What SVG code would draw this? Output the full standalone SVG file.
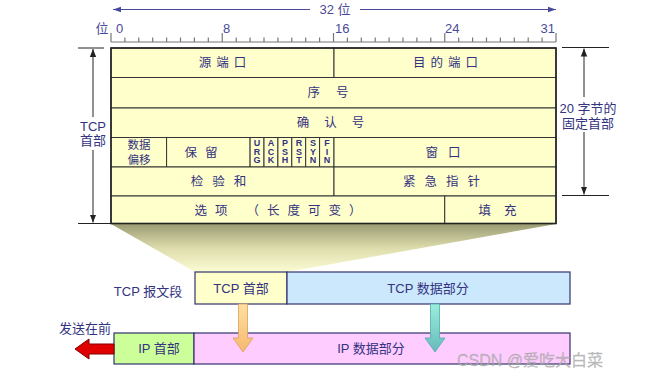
<svg xmlns="http://www.w3.org/2000/svg" width="663" height="380" viewBox="0 0 663 380">
<defs>
<style>
.t{font-family:"Noto Sans CJK SC","Liberation Sans",sans-serif;fill:#33337f;font-size:12.5px;text-anchor:middle}
.t2{font-family:"Liberation Sans","Noto Sans CJK SC",sans-serif;fill:#33337f;font-size:11.5px;text-anchor:middle}
.r{font-family:"Liberation Sans","Noto Sans CJK SC",sans-serif;fill:#4a4a9a;font-size:13px}
.f{font-family:"Liberation Sans",sans-serif;font-weight:bold;fill:#33337f;font-size:9px;text-anchor:middle}
.b{font-family:"Liberation Sans","Noto Sans CJK SC",sans-serif;fill:#33337f;font-size:13px;text-anchor:middle}
.cell{fill:#ffffcc;stroke:#333;stroke-width:1}
.dim{stroke:#222;stroke-width:1;fill:none}
.seg{stroke:#33336f;stroke-width:1.2}
</style>
<linearGradient id="shadow" x1="0" y1="0" x2="0" y2="1">
<stop offset="0" stop-color="#9c9c74"/>
<stop offset="0.5" stop-color="#dcdcac"/>
<stop offset="1" stop-color="#fcfcd4"/>
</linearGradient>
<linearGradient id="og" x1="0" y1="0" x2="0" y2="1">
<stop offset="0" stop-color="#ffe0a0"/>
<stop offset="1" stop-color="#f5b870"/>
</linearGradient>
<linearGradient id="tg" x1="0" y1="0" x2="0" y2="1">
<stop offset="0" stop-color="#99eedd"/>
<stop offset="1" stop-color="#66bbbb"/>
</linearGradient>
<marker id="ah" viewBox="0 0 10 10" refX="10" refY="5" markerWidth="8" markerHeight="8" orient="auto-start-reverse" markerUnits="userSpaceOnUse">
<path d="M0,1 L10,5 L0,9 z" fill="#222"/>
</marker>
<marker id="ahb" viewBox="0 0 10 10" refX="10" refY="5" markerWidth="10" markerHeight="8" orient="auto-start-reverse" markerUnits="userSpaceOnUse">
<path d="M0,1.5 L10,5 L0,8.5 z" fill="#4a4a9a"/>
</marker>
</defs>
<rect width="663" height="380" fill="#fff"/>

<!-- shadow trapezoid -->
<polygon id="shadow-area" points="111,224 556,224 287,272 195,272" fill="url(#shadow)"/>

<!-- ruler -->
<g id="ruler">
<line x1="310" y1="9.5" x2="113" y2="9.5" stroke="#4a4a9a" stroke-width="1.2" marker-end="url(#ahb)"/>
<line x1="360" y1="9.5" x2="556" y2="9.5" stroke="#4a4a9a" stroke-width="1.2" marker-end="url(#ahb)"/>
<text class="r" x="335" y="14" text-anchor="middle">32 位</text>
<text class="r" x="102" y="33" text-anchor="middle">位</text>
<text class="r" x="116" y="33">0</text>
<text class="r" x="223" y="33">8</text>
<text class="r" x="335" y="33">16</text>
<text class="r" x="445" y="33">24</text>
<text class="r" x="555" y="33" text-anchor="end">31</text>
<path stroke="#777" stroke-width="1.2" fill="none" d="M111,42H556 M111,33V42 M222.25,33V42 M333.5,33V42 M444.75,33V42 M556,33V42
M124.9,37.5V42 M138.8,37.5V42 M152.7,37.5V42 M166.6,37.5V42 M180.5,37.5V42 M194.4,37.5V42 M208.3,37.5V42
M236.2,37.5V42 M250.1,37.5V42 M264,37.5V42 M277.9,37.5V42 M291.8,37.5V42 M305.7,37.5V42 M319.6,37.5V42
M347.4,37.5V42 M361.3,37.5V42 M375.2,37.5V42 M389.1,37.5V42 M403,37.5V42 M416.9,37.5V42 M430.8,37.5V42
M458.7,37.5V42 M472.6,37.5V42 M486.5,37.5V42 M500.4,37.5V42 M514.3,37.5V42 M528.2,37.5V42 M542.1,37.5V42"/>
</g>

<!-- header table -->
<g id="tcp-header">
<rect class="cell" x="111" y="48" width="223" height="29.5"/>
<rect class="cell" x="334" y="48" width="222" height="29.5"/>
<rect class="cell" x="111" y="77.5" width="445" height="30.5"/>
<rect class="cell" x="111" y="108" width="445" height="29.5"/>
<rect class="cell" x="111" y="137.5" width="55.6" height="29.5"/>
<rect class="cell" x="166.6" y="137.5" width="83.5" height="29.5"/>
<rect class="cell" x="250.1" y="137.5" width="13.9" height="29.5"/>
<rect class="cell" x="264" y="137.5" width="13.9" height="29.5"/>
<rect class="cell" x="277.9" y="137.5" width="13.9" height="29.5"/>
<rect class="cell" x="291.8" y="137.5" width="13.9" height="29.5"/>
<rect class="cell" x="305.7" y="137.5" width="13.9" height="29.5"/>
<rect class="cell" x="319.6" y="137.5" width="14.4" height="29.5"/>
<rect class="cell" x="334" y="137.5" width="222" height="29.5"/>
<rect class="cell" x="111" y="167" width="223" height="29"/>
<rect class="cell" x="334" y="167" width="222" height="29"/>
<rect class="cell" x="111" y="196" width="333.75" height="27.5"/>
<rect class="cell" x="444.75" y="196" width="111.25" height="27.5"/>
<rect x="111" y="48" width="445" height="175.5" fill="none" stroke="#222" stroke-width="1.6"/>
<text class="t" x="225" y="67" letter-spacing="5">源端口</text>
<text class="t" x="448" y="67" letter-spacing="5">目的端口</text>
<text class="t" x="336" y="97" letter-spacing="16">序号</text>
<text class="t" x="338" y="127" letter-spacing="15">确认号</text>
<text class="t2" x="139" y="149">数据</text>
<text class="t2" x="139" y="164">偏移</text>
<text class="t" x="205" y="157" letter-spacing="8">保留</text>
<text class="f"><tspan x="257" y="146">U</tspan><tspan x="257" y="154.5">R</tspan><tspan x="257" y="163">G</tspan></text>
<text class="f"><tspan x="271" y="146">A</tspan><tspan x="271" y="154.5">C</tspan><tspan x="271" y="163">K</tspan></text>
<text class="f"><tspan x="285" y="146">P</tspan><tspan x="285" y="154.5">S</tspan><tspan x="285" y="163">H</tspan></text>
<text class="f"><tspan x="299" y="146">R</tspan><tspan x="299" y="154.5">S</tspan><tspan x="299" y="163">T</tspan></text>
<text class="f"><tspan x="313" y="146">S</tspan><tspan x="313" y="154.5">Y</tspan><tspan x="313" y="163">N</tspan></text>
<text class="f"><tspan x="327" y="146">F</tspan><tspan x="327" y="154.5">I</tspan><tspan x="327" y="163">N</tspan></text>
<text class="t" x="448" y="157" letter-spacing="10">窗口</text>
<text class="t" x="223" y="186" letter-spacing="9">检验和</text>
<text class="t" x="446" y="186" letter-spacing="9">紧急指针</text>
<text class="t" x="282" y="215" letter-spacing="8">选项 （长度可变）</text>
<text class="t" x="504" y="215" letter-spacing="13">填充</text>
</g>

<!-- dimension annotations -->
<g id="dim-left">
<line class="dim" x1="78" y1="48" x2="104" y2="48"/>
<line class="dim" x1="78" y1="223.5" x2="111" y2="223.5"/>
<line class="dim" x1="93" y1="117" x2="93" y2="49" marker-end="url(#ah)"/>
<line class="dim" x1="93" y1="150" x2="93" y2="222.5" marker-end="url(#ah)"/>
<text class="b" x="93" y="131">TCP</text>
<text class="b" x="93" y="145">首部</text>
</g>
<g id="dim-right">
<line class="dim" x1="562" y1="47.5" x2="609" y2="47.5"/>
<line class="dim" x1="562" y1="195.5" x2="609" y2="195.5"/>
<line class="dim" x1="584" y1="97" x2="584" y2="48.5" marker-end="url(#ah)"/>
<line class="dim" x1="584" y1="132" x2="584" y2="194.5" marker-end="url(#ah)"/>
<text class="b" x="588" y="113">20 字节的</text>
<text class="b" x="588" y="128">固定首部</text>
</g>

<!-- TCP segment -->
<g id="tcp-segment">
<text class="b" x="148" y="296">TCP 报文段</text>
</g>
<g id="tcp-hdr-box">
<rect class="seg" x="195" y="272" width="92" height="32" fill="#ffffcc"/>
<text class="b" x="241" y="293">TCP 首部</text>
</g>
<g id="tcp-data-box">
<rect class="seg" x="287" y="272" width="283" height="32" fill="#cce8fc"/>
<text class="b" x="428" y="293">TCP 数据部分</text>
</g>

<!-- IP datagram -->
<g id="ip-hdr-box">
<rect class="seg" x="114" y="333" width="80" height="31" fill="#ccff99"/>
<text class="b" x="159" y="353">IP 首部</text>
</g>
<g id="ip-data-box">
<rect class="seg" x="194" y="333" width="376" height="31" fill="#ffccff"/>
<text class="b" x="371" y="353">IP 数据部分</text>
</g>

<g id="connectors">
<polygon points="238.5,304 247.5,304 247.5,338 253,338 243,352 233,338 238.5,338" fill="url(#og)" stroke="#d8a060" stroke-width="0.8"/>
<polygon points="430.5,304 439.5,304 439.5,338 445,338 435,352 425,338 430.5,338" fill="url(#tg)" stroke="#55aaaa" stroke-width="0.8"/>
<polygon points="114,344 89,344 89,339 75,349 89,359 89,354 114,354" fill="#e00000" stroke="#800000" stroke-width="1"/>
</g>
<text class="b" x="85" y="333">发送在前</text>

<text x="457" y="366" font-family="Liberation Sans,Noto Sans CJK SC,sans-serif" font-size="16" fill="#b0b0b0" fill-opacity="0.8" stroke="#888" stroke-width="0.3" stroke-opacity="0.5">CSDN @爱吃大白菜</text>
</svg>
